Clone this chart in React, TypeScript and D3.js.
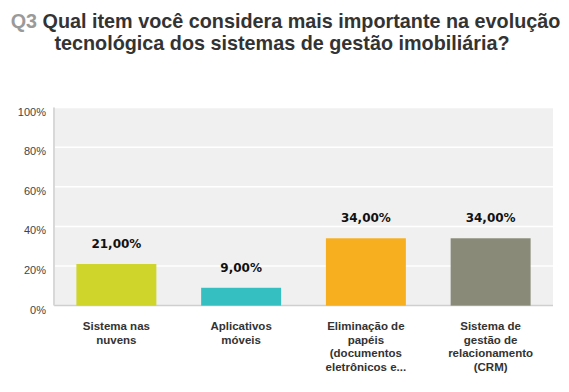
import React from "react";
import * as d3 from "d3";

const categories = [
  ["Sistema nas", "nuvens"],
  ["Aplicativos", "móveis"],
  ["Eliminação de", "papéis", "(documentos", "eletrônicos e..."],
  ["Sistema de", "gestão de", "relacionamento", "(CRM)"],
];
const values = [21, 9, 34, 34];
const colors = ["#cfd52a", "#35bfc0", "#f7af1f", "#8a8a78"];
const yTicks = [0, 20, 40, 60, 80, 100];

const width = 569;
const height = 392;
const margins = { top: 107.6, right: 16, bottom: 86.4, left: 54 };

export default function App() {
  const xScale = d3
    .scaleBand<number>()
    .domain(values.map((_, i) => i))
    .range([margins.left, width - margins.right])
    .paddingInner(0.359)
    .paddingOuter(0.1795);

  const yScale = d3
    .scaleLinear()
    .domain([0, 100])
    .range([height - margins.bottom, margins.top]);

  const fmt = (v: number) => v.toFixed(2).replace(".", ",") + "%";

  return (
    <svg
      width={width}
      height={height}
      style={{ position: "absolute", left: 0, top: 0, background: "#fff" }}
    >
      {/* title */}
      <text
        textAnchor="middle"
        fontFamily="Liberation Sans, Arial, sans-serif"
        fontWeight="bold"
        fontSize={19.8}
        fill="#333"
      >
        <tspan x={285.5} y={28}>
          <tspan fill="#9a9a9a">Q3</tspan> Qual item você considera mais importante na evolução
        </tspan>
        <tspan x={282} y={50}>
          tecnológica dos sistemas de gestão imobiliária?
        </tspan>
      </text>

      {/* plot background */}
      <rect
        x={margins.left}
        y={yScale(100)}
        width={width - margins.right - margins.left}
        height={yScale(0) - yScale(100)}
        fill="#f0f0f0"
      />
      {yTicks.map((t) => (
        <g key={t}>
          {t > 0 && (
            <line
              x1={margins.left}
              x2={width - margins.right}
              y1={yScale(t)}
              y2={yScale(t)}
              stroke="#fff"
              strokeWidth={1.5}
            />
          )}
          <text
            x={46}
            y={yScale(t) + 8}
            textAnchor="end"
            fontFamily="Liberation Sans, Arial, sans-serif"
            fontSize={11}
            fill="#444"
          >
            {t}%
          </text>
        </g>
      ))}

      {/* axes */}
      <line
        x1={margins.left}
        x2={width - margins.right}
        y1={yScale(0)}
        y2={yScale(0)}
        stroke="#cfcfcf"
        strokeWidth={1.5}
      />
      <line
        x1={margins.left}
        x2={margins.left}
        y1={yScale(100)}
        y2={yScale(0)}
        stroke="#d8d8d8"
        strokeWidth={2}
      />

      {/* bars */}
      {values.map((v, i) => (
        <g key={i}>
          <rect
            x={xScale(i)}
            y={yScale(v)}
            width={xScale.bandwidth()}
            height={yScale(0) - yScale(v)}
            fill={colors[i]}
          />
          <text
            x={(xScale(i) as number) + xScale.bandwidth() / 2}
            y={yScale(v) - 16}
            textAnchor="middle"
            fontFamily="DejaVu Sans, Verdana, sans-serif"
            fontWeight="bold"
            fontSize={12}
            fill="#111"
          >
            {fmt(v)}
          </text>
          <text
            textAnchor="middle"
            fontFamily="Liberation Sans, Arial, sans-serif"
            fontWeight="bold"
            fontSize={11.5}
            fill="#333"
          >
            {categories[i].map((line, j) => (
              <tspan
                key={j}
                x={(xScale(i) as number) + xScale.bandwidth() / 2}
                y={330 + j * 13.6}
              >
                {line}
              </tspan>
            ))}
          </text>
        </g>
      ))}
    </svg>
  );
}
